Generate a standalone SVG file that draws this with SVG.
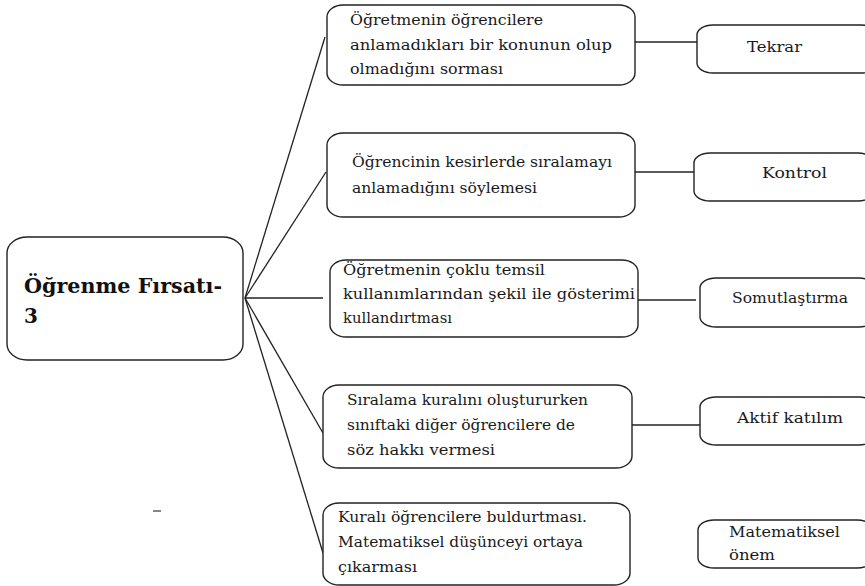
<svg xmlns="http://www.w3.org/2000/svg" width="865" height="586" viewBox="0 0 865 586">
  <style>
    .box { fill: #ffffff; stroke: #222222; stroke-width: 1.4; }
    .edge { fill: none; stroke: #222222; stroke-width: 1.3; }
    .t { font-family: "DejaVu Serif", "Liberation Serif", serif; font-size: 14.5px; fill: #1a1a1a; }
    .title { font-family: "DejaVu Serif", "Liberation Serif", serif; font-size: 20px; font-weight: bold; fill: #111111; }
  </style>
  <rect width="865" height="586" fill="#ffffff"/>

  <!-- connectors -->
  <g id="connectors">
    <line class="edge" x1="245" y1="298" x2="325" y2="37"/>
    <line class="edge" x1="245" y1="298" x2="326" y2="172"/>
    <line class="edge" x1="245" y1="298" x2="323" y2="298"/>
    <line class="edge" x1="245" y1="298" x2="323" y2="433"/>
    <line class="edge" x1="245" y1="298" x2="323" y2="553"/>
    <line class="edge" x1="635" y1="42" x2="697" y2="42"/>
    <line class="edge" x1="635" y1="172" x2="694" y2="172"/>
    <line class="edge" x1="638" y1="300" x2="696" y2="300"/>
    <line class="edge" x1="632" y1="425" x2="700" y2="425"/>
  </g>

  <!-- central node -->
  <g id="main">
    <rect class="box" x="7" y="237" width="236" height="123" rx="20" ry="16"/>
    <text class="title" x="24" y="293" textLength="198" lengthAdjust="spacingAndGlyphs">Öğrenme Fırsatı-</text>
    <text class="title" x="24" y="323">3</text>
  </g>

  <!-- middle column -->
  <g id="n1">
    <rect class="box" x="327" y="5" width="308" height="80" rx="16" ry="12"/>
    <text class="t" x="350" y="25" textLength="193" lengthAdjust="spacingAndGlyphs">Öğretmenin öğrencilere</text>
    <text class="t" x="350" y="50" textLength="262" lengthAdjust="spacingAndGlyphs">anlamadıkları bir konunun olup</text>
    <text class="t" x="350" y="74" textLength="153" lengthAdjust="spacingAndGlyphs">olmadığını sorması</text>
  </g>
  <g id="n2">
    <rect class="box" x="327" y="133" width="308" height="84" rx="16" ry="12"/>
    <text class="t" x="352" y="167" textLength="260" lengthAdjust="spacingAndGlyphs">Öğrencinin kesirlerde sıralamayı</text>
    <text class="t" x="352" y="193" textLength="185" lengthAdjust="spacingAndGlyphs">anlamadığını söylemesi</text>
  </g>
  <g id="n3">
    <rect class="box" x="330" y="260" width="308" height="77" rx="16" ry="12"/>
    <text class="t" x="343" y="275" textLength="202" lengthAdjust="spacingAndGlyphs">Öğretmenin çoklu temsil</text>
    <text class="t" x="343" y="299" textLength="292" lengthAdjust="spacingAndGlyphs">kullanımlarından şekil ile gösterimi</text>
    <text class="t" x="343" y="323" textLength="109" lengthAdjust="spacingAndGlyphs">kullandırtması</text>
  </g>
  <g id="n4">
    <rect class="box" x="323" y="385" width="309" height="83" rx="16" ry="12"/>
    <text class="t" x="347" y="405" textLength="241" lengthAdjust="spacingAndGlyphs">Sıralama kuralını oluştururken</text>
    <text class="t" x="347" y="430" textLength="228" lengthAdjust="spacingAndGlyphs">sınıftaki diğer öğrencilere de</text>
    <text class="t" x="347" y="455" textLength="148" lengthAdjust="spacingAndGlyphs">söz hakkı vermesi</text>
  </g>
  <g id="n5">
    <rect class="box" x="323" y="503" width="307" height="82" rx="16" ry="12"/>
    <text class="t" x="338" y="522" textLength="249" lengthAdjust="spacingAndGlyphs">Kuralı öğrencilere buldurtması.</text>
    <text class="t" x="338" y="547" textLength="245" lengthAdjust="spacingAndGlyphs">Matematiksel düşünceyi ortaya</text>
    <text class="t" x="338" y="572" textLength="79" lengthAdjust="spacingAndGlyphs">çıkarması</text>
  </g>

  <!-- right column -->
  <g id="r1">
    <rect class="box" x="697" y="25" width="180" height="48" rx="16" ry="10"/>
    <text class="t" x="747" y="52" textLength="55" lengthAdjust="spacingAndGlyphs">Tekrar</text>
  </g>
  <g id="r2">
    <rect class="box" x="694" y="153" width="180" height="48" rx="16" ry="10"/>
    <text class="t" x="762" y="178" textLength="65" lengthAdjust="spacingAndGlyphs">Kontrol</text>
  </g>
  <g id="r3">
    <rect class="box" x="700" y="278" width="175" height="49" rx="16" ry="10"/>
    <text class="t" x="732" y="303" textLength="116" lengthAdjust="spacingAndGlyphs">Somutlaştırma</text>
  </g>
  <g id="r4">
    <rect class="box" x="700" y="397" width="175" height="48" rx="16" ry="10"/>
    <text class="t" x="737" y="423" textLength="106" lengthAdjust="spacingAndGlyphs">Aktif katılım</text>
  </g>
  <g id="r5">
    <rect class="box" x="698" y="520" width="175" height="48" rx="16" ry="10"/>
    <text class="t" x="729" y="537" textLength="111" lengthAdjust="spacingAndGlyphs">Matematiksel</text>
    <text class="t" x="729" y="560" textLength="46" lengthAdjust="spacingAndGlyphs">önem</text>
  </g>

  <!-- stray dash -->
  <line x1="153" y1="511" x2="161" y2="511" stroke="#444444" stroke-width="1.3"/>
</svg>
